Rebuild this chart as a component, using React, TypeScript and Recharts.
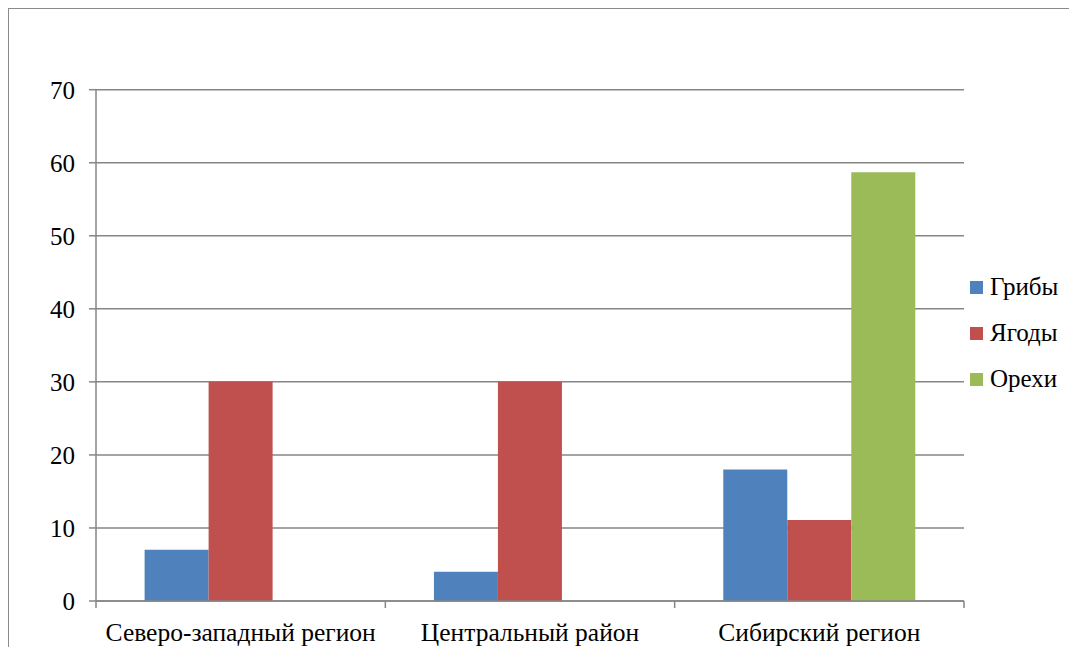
import React from "react";
import { BarChart, Bar, XAxis, YAxis, CartesianGrid, Legend } from "recharts";

const categories = ["Северо-западный регион", "Центральный район", "Сибирский регион"];
const mushrooms = [7, 4, 18];
const berries = [30, 30, 11.1];
const nuts = [0, 0, 58.7];
const yTicks = [0, 10, 20, 30, 40, 50, 60, 70];
const seriesNames = ["Грибы", "Ягоды", "Орехи"];
const seriesColors = ["#4F81BD", "#C0504D", "#9BBB59"];

const data = categories.map((c, i) => ({
  name: c,
  s0: mushrooms[i],
  s1: berries[i],
  s2: nuts[i],
}));

const FONT = "Liberation Serif, Tinos, Times New Roman, DejaVu Serif, serif";
const GRID = "#868686";

const CatTick = (props: any) => {
  const { x, y, payload, index, visibleTicksCount } = props;
  const half = payload && typeof payload.offset === "number" ? payload.offset : 0;
  const last = index === (visibleTicksCount ?? 3) - 1;
  return (
    <g>
      <line x1={x - half} x2={x - half} y1={y} y2={y + 7} stroke={GRID} strokeWidth={1.5} />
      {last && <line x1={x + half} x2={x + half} y1={y} y2={y + 7} stroke={GRID} strokeWidth={1.5} />}
      <text x={x} y={y + 40} textAnchor="middle" style={{ fontFamily: FONT, fontSize: 25.5 }} fill="#000">
        {payload.value}
      </text>
    </g>
  );
};

const LegendContent = () => (
  <div style={{ width: 100 }}>
    {seriesNames.map((n, i) => (
      <div key={n} style={{ display: "flex", alignItems: "center", height: 46 }}>
        <div style={{ width: 13, height: 13, background: seriesColors[i], marginRight: 7 }} />
        <span style={{ fontFamily: FONT, fontSize: 25, color: "#000", lineHeight: "24px" }}>{n}</span>
      </div>
    ))}
  </div>
);

export default function App() {
  return (
    <div style={{ position: "relative", width: 1069, height: 639, fontFamily: FONT }}>
      <div
        style={{
          position: "absolute",
          left: 0,
          top: 0,
          width: 1069,
          height: 639,
          borderTop: "1.5px solid #8a8a8a",
          borderLeft: "1.5px solid #8a8a8a",
          boxSizing: "border-box",
          pointerEvents: "none",
        }}
      />
      <BarChart
        width={1069}
        height={639}
        data={data}
        margin={{ top: 81.7, right: 13, bottom: 0, left: 0 }}
        barCategoryGap="16.8%"
        barGap={0}
        style={{ fontFamily: FONT }}
      >
        <CartesianGrid vertical={false} stroke={GRID} strokeWidth={1.5} />
        <XAxis
          dataKey="name"
          height={46}
          tickLine={false}
          tickSize={0}
          tickMargin={0}
          axisLine={{ stroke: GRID, strokeWidth: 1.5 }}
          tick={<CatTick />}
          interval={0}
        />
        <YAxis
          width={88}
          domain={[0, 70]}
          ticks={yTicks}
          tickSize={7}
          tickMargin={14}
          tickLine={{ stroke: GRID, strokeWidth: 1.5 }}
          axisLine={{ stroke: GRID, strokeWidth: 1.5 }}
          tick={{ fill: "#000", fontSize: 25, style: { fontFamily: FONT } }}
        />
        <Legend
          layout="vertical"
          align="right"
          verticalAlign="middle"
          width={100}
          content={<LegendContent />}
          wrapperStyle={{ left: 962, top: 256, right: undefined, bottom: undefined }}
        />
        <Bar dataKey="s0" name={seriesNames[0]} fill={seriesColors[0]} isAnimationActive={false} />
        <Bar dataKey="s1" name={seriesNames[1]} fill={seriesColors[1]} isAnimationActive={false} />
        <Bar dataKey="s2" name={seriesNames[2]} fill={seriesColors[2]} isAnimationActive={false} />
      </BarChart>
    </div>
  );
}
